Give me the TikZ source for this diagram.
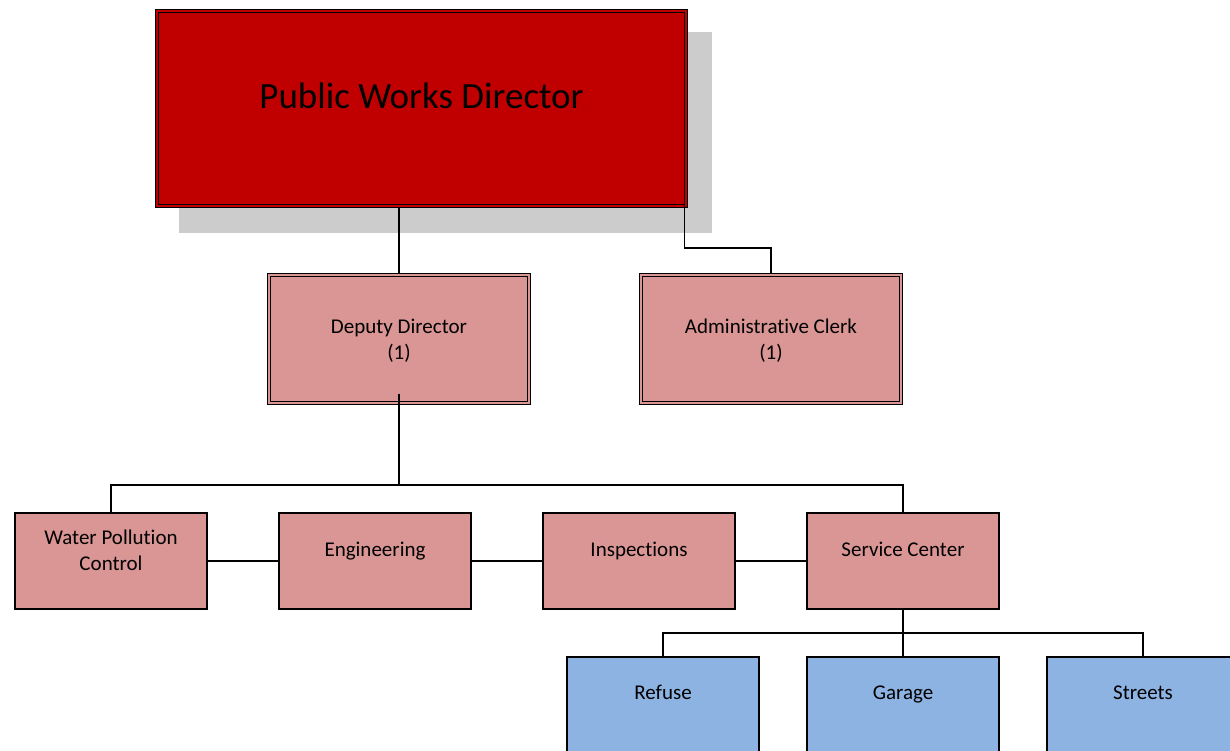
\documentclass[tikz,border=0pt]{standalone}
\usepackage{fontspec}
\setmainfont{Carlito}[RawFeature={-liga;-clig}]
\definecolor{dirred}{HTML}{C00000}
\definecolor{unitpink}{HTML}{D99694}
\definecolor{crewblue}{HTML}{8DB3E2}
\definecolor{shadowgray}{HTML}{CCCCCC}
\begin{document}
\begin{tikzpicture}[x=1pt,y=-1pt,
  conn/.style={draw=black, line width=1.4pt},
  headbox/.style={rectangle, draw=black, line width=1.1pt, double=#1, double distance=2.3pt, fill=#1, inner sep=0pt},
  unitbox/.style={rectangle, draw=black, line width=1.4pt, fill=unitpink, minimum width=192pt, minimum height=96pt, inner sep=0pt},
  crewbox/.style={unitbox, fill=crewblue},
  lbl/.style={font=\fontsize{21}{26}\selectfont, align=center, text=black, inner sep=0pt},
  oneline/.style={lbl, text height=15pt, text depth=5pt},
]
\clip (0,0) rectangle (1230,750);

% director with its drop shadow
\fill[shadowgray] (179,32) rectangle (712,233);
\node[headbox=dirred, minimum width=529pt, minimum height=195pt] (dir) at (421.5,108.5) {};
\node[lbl, font=\fontsize{37}{44}\selectfont] (dir-t) at (421.5,96) {Public Works Director};

% second level
\node[headbox=unitpink, minimum width=260pt, minimum height=128pt] (dep) at (399,339) {};
\node[lbl] (dep-t) at (399,341) {Deputy Director\\(1)};
\node[headbox=unitpink, minimum width=260pt, minimum height=128pt] (clk) at (771,339) {};
\node[lbl] (clk-t) at (771,341) {Administrative Clerk\\(1)};

% divisions
\node[unitbox] (wpc) at (111,561) {};
\node[unitbox] (eng) at (375,561) {};
\node[unitbox] (ins) at (639,561) {};
\node[unitbox] (svc) at (903,561) {};
\node[lbl] (wpc-t) at (111,550) {Water Pollution\\Control};
\node[oneline] (eng-t) at (375,551) {Engineering};
\node[oneline] (ins-t) at (639,551) {Inspections};
\node[oneline] (svc-t) at (903,551) {Service Center};

% service center crews
\node[crewbox] (ref) at (663,705) {};
\node[crewbox] (gar) at (903,705) {};
\node[crewbox] (str) at (1143,705) {};
\node[oneline] (ref-t) at (663,694) {Refuse};
\node[oneline] (gar-t) at (903,694) {Garage};
\node[oneline] (str-t) at (1143,694) {Streets};

% connectors
\coordinate (clkturn) at (771,248);
\coordinate (bus) at (399,485);
\coordinate (crewbus) at (903,633);

\draw[conn] (dep.north |- dir.south) -- (dep.north);
\draw[conn] ([xshift=-2pt,yshift=28pt]dir.east) |- (clkturn) -- (clk.north);
\draw[conn] ([yshift=10pt]dep.south) -- (bus);
\draw[conn] (wpc.north) |- (bus) -| (svc.north);
\draw[conn] (wpc.east) -- (eng.west);
\draw[conn] (eng.east) -- (ins.west);
\draw[conn] (ins.east) -- (svc.west);
\draw[conn] (svc.south) -- (gar.north);
\draw[conn] (ref.north) |- (crewbus) -| (str.north);
\end{tikzpicture}
\end{document}
